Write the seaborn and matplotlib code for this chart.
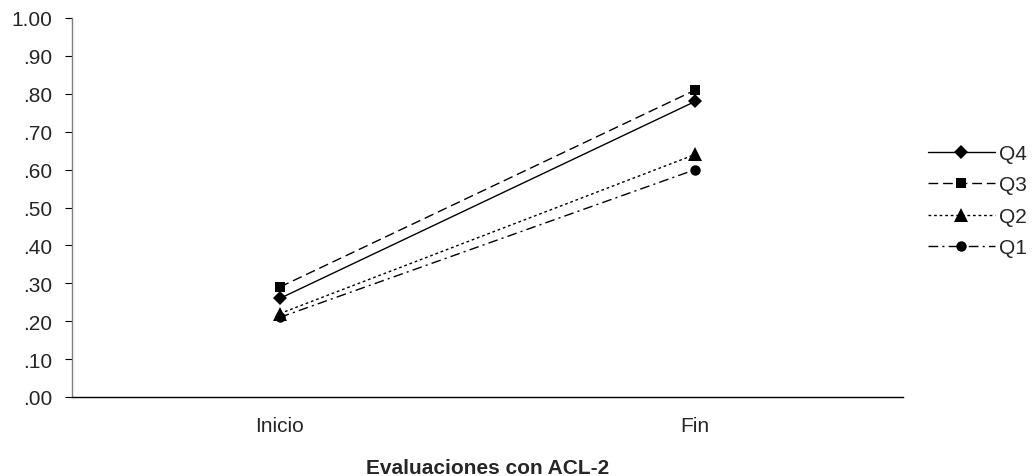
import matplotlib
matplotlib.use("Agg")
import matplotlib.pyplot as plt
import seaborn as sns
import pandas as pd

categories = ["Inicio", "Fin"]
series_names = ["Q4", "Q3", "Q2", "Q1"]
q4 = [0.26, 0.78]
q3 = [0.29, 0.81]
q2 = [0.22, 0.64]
q1 = [0.21, 0.60]
y_ticks = [0.0, 0.1, 0.2, 0.3, 0.4, 0.5, 0.6, 0.7, 0.8, 0.9, 1.0]
y_tick_labels = [".00", ".10", ".20", ".30", ".40", ".50", ".60", ".70", ".80", ".90", "1.00"]
x_label = "Evaluaciones con ACL-2"

values = {"Q4": q4, "Q3": q3, "Q2": q2, "Q1": q1}
rows = []
for s in series_names:
    for c, v in zip(categories, values[s]):
        rows.append({"Evaluación": c, "Valor": v, "Serie": s})
df = pd.DataFrame(rows)

sns.set_style("white")
plt.rcParams["font.family"] = ["Liberation Sans", "DejaVu Sans"]

FS = 15

fig = plt.figure(figsize=(10.36, 4.77), dpi=100)
ax = fig.add_axes([72 / 1036, 79 / 477, (903 - 72) / 1036, (398 - 19) / 477])

palette = {s: "black" for s in series_names}
dashes = {"Q4": "", "Q3": (7, 3.5), "Q2": (2, 2), "Q1": (7, 3, 1.5, 3)}
markers = {"Q4": "D", "Q3": "s", "Q2": "^", "Q1": "o"}

sns.lineplot(data=df, x="Evaluación", y="Valor", hue="Serie", style="Serie",
             hue_order=series_names, style_order=series_names,
             palette=palette, dashes=dashes, markers=markers,
             markersize=7.5, linewidth=1.0, markeredgewidth=0, ax=ax)

ax.set_xlim(-0.5, 1.5)
ax.set_ylim(0, 1.0)
ax.set_yticks(y_ticks)
ax.set_yticklabels(y_tick_labels)
ax.set_xticks([0, 1])
ax.set_xticklabels(categories)
ax.set_xticks([-0.5, 0.5, 1.5], minor=True)
ax.tick_params(axis="x", which="major", length=0, pad=14, labelsize=FS)
ax.tick_params(axis="x", which="minor", length=6, width=0.8, direction="out", color="black")
ax.tick_params(axis="y", which="major", length=5, width=0.8, direction="out", pad=9,
               labelsize=FS, left=True, color="black")
ax.set_xlabel(x_label, fontsize=FS, fontweight="bold", labelpad=16)
ax.set_ylabel("")

for side in ["top", "right"]:
    ax.spines[side].set_visible(False)
ax.spines["left"].set_color("#808080")
ax.spines["left"].set_linewidth(1.0)
ax.spines["bottom"].set_color("black")
ax.spines["bottom"].set_linewidth(1.0)

for ln in ax.lines:
    if ln.get_marker() == "^":
        ln.set_markersize(9.5)

sns.move_legend(ax, "center left", bbox_to_anchor=(1.030, 0.518), frameon=False,
                title=None, handlelength=3.2, handletextpad=0.2, labelspacing=0.6,
                borderpad=0, borderaxespad=0, fontsize=FS)
for h in ax.get_legend().legend_handles:
    if h.get_marker() == "^":
        h.set_markersize(9.5)

fig.savefig("out.png", dpi=100)
